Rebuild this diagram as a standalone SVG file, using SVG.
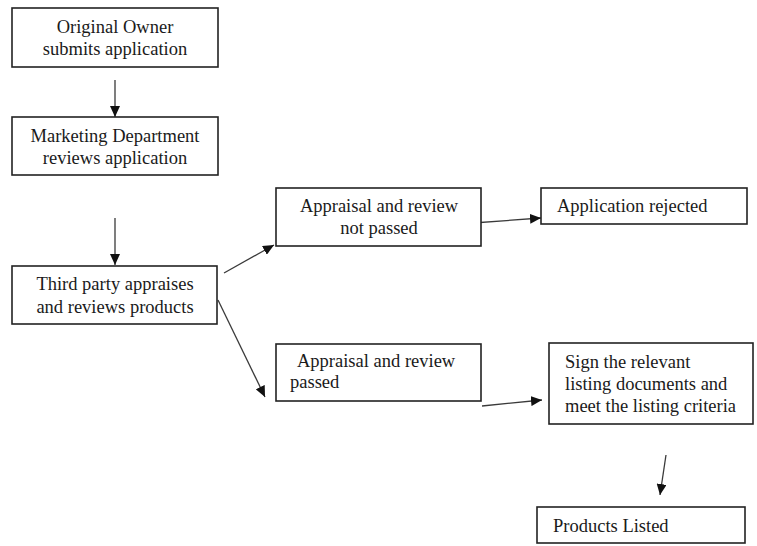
<svg xmlns="http://www.w3.org/2000/svg" width="757" height="546" viewBox="0 0 757 546">
<defs>
<style>
.box{fill:#fff;stroke:#222;stroke-width:1.6}
.t{font-family:"Liberation Serif","Times New Roman",serif;font-size:18.5px;fill:#1a1a1a}
.c{text-anchor:middle}
.ln{stroke:#3a3a3a;stroke-width:1.3;fill:none;marker-end:url(#ah)}
</style>
<marker id="ah" markerUnits="userSpaceOnUse" markerWidth="12" markerHeight="10" refX="11" refY="5" orient="auto">
<path d="M0,0 L11,5 L0,10 Z" fill="#111"/>
</marker>
</defs>
<rect width="757" height="546" fill="#fff"/>
<g id="connectors">
<line class="ln" x1="115" y1="80" x2="115" y2="117"/>
<line class="ln" x1="115" y1="218" x2="115" y2="265"/>
<line class="ln" x1="224" y1="273" x2="274" y2="245"/>
<line class="ln" x1="218" y1="300" x2="265" y2="397"/>
<line class="ln" x1="473" y1="223" x2="541" y2="218"/>
<line class="ln" x1="482" y1="406" x2="542" y2="400"/>
<line class="ln" x1="666" y1="455" x2="660" y2="495"/>
</g>
<g id="n1">
<rect class="box" x="12" y="8" width="206" height="59"/>
<text class="t c" x="115" y="33">Original Owner</text>
<text class="t c" x="115" y="55">submits application</text>
</g>
<g id="n2">
<rect class="box" x="12" y="117" width="206" height="58"/>
<text class="t c" x="115" y="142">Marketing Department</text>
<text class="t c" x="115" y="164">reviews application</text>
</g>
<g id="n3">
<rect class="box" x="12" y="266" width="205" height="58"/>
<text class="t c" x="115" y="290">Third party appraises</text>
<text class="t c" x="115" y="313">and reviews products</text>
</g>
<g id="n4">
<rect class="box" x="276" y="188" width="205" height="58"/>
<text class="t c" x="379" y="212">Appraisal and review</text>
<text class="t c" x="379" y="234">not passed</text>
</g>
<g id="n5">
<rect class="box" x="541" y="188" width="206" height="36"/>
<text class="t" x="557" y="212">Application rejected</text>
</g>
<g id="n6">
<rect class="box" x="276" y="344" width="205" height="57"/>
<text class="t" x="297" y="367">Appraisal and review</text>
<text class="t" x="290" y="388">passed</text>
</g>
<g id="n7">
<rect class="box" x="549" y="343" width="204" height="81"/>
<text class="t" x="565" y="368">Sign the relevant</text>
<text class="t" x="565" y="390">listing documents and</text>
<text class="t" x="565" y="412">meet the listing criteria</text>
</g>
<g id="n8">
<rect class="box" x="537" y="507" width="208" height="36"/>
<text class="t" x="553" y="532">Products Listed</text>
</g>
</svg>
